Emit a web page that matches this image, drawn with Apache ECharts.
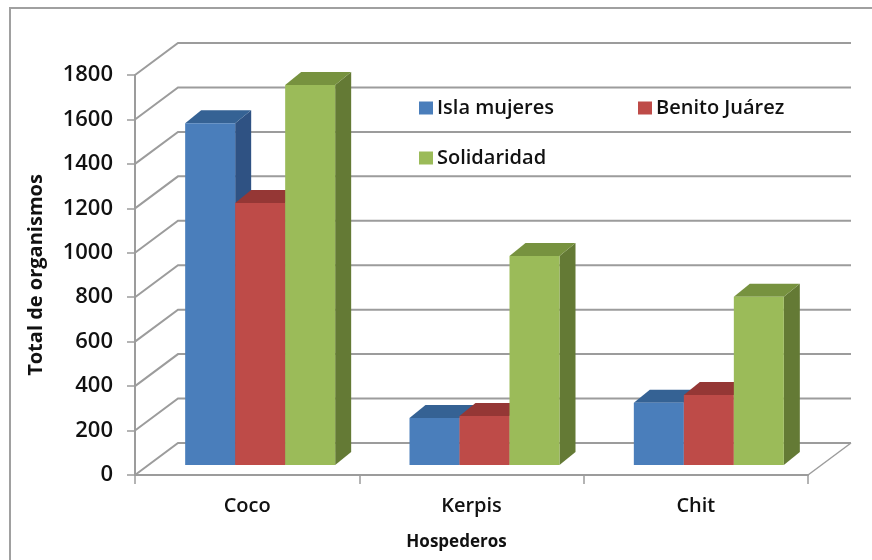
<!DOCTYPE html>
<html>
<head>
<meta charset="utf-8">
<style>html,body{margin:0;padding:0;background:#fff}#chart{width:872px;height:560px}</style>
<script src="https://cdn.jsdelivr.net/npm/echarts@6/dist/echarts.min.js"></script>
</head>
<body>
<div id="chart"></div>
<script>
// Total de organismos por hospedero y localidad
const categories = ['Coco', 'Kerpis', 'Chit'];
const islaMujeres = [1538, 212, 280];
const benitoJuarez = [1179, 220, 315];
const solidaridad = [1710, 940, 757];
const yTicks = [0, 200, 400, 600, 800, 1000, 1200, 1400, 1600, 1800];

// Oblique projection used to fake depth, in pixels
const WALL = { dx: 43, dy: -32 };
const BAR_SHIFT = { dx: 14, dy: -10 };
const BAR_DEPTH = { dx: 16, dy: -13 };
const BAR_BAND = 50 / 224.33;
const GRID_COLOR = '#9c9c9c';
const FONT = '"Open Sans", "Noto Sans", sans-serif';
const TEXT = '#111';

const palette = [
  { front: '#4a7ebb', top: '#356294', side: '#2f5283' },
  { front: '#be4b48', top: '#953735', side: '#8c3836' },
  { front: '#9bbb59', top: '#77923f', side: '#647a35' }
];

function poly(points, fill) {
  return { type: 'polygon', shape: { points }, style: { fill, stroke: null } };
}

// Back wall gridlines plus the floor edge on the right
function renderWall(params, api) {
  const p = api.coord([0, api.value(0)]);
  const size = api.size([1, 0]);
  const x0 = p[0] - size[0] / 2;
  const x1 = x0 + size[0] * categories.length;
  const y = p[1];
  const children = [{
    type: 'polyline',
    shape: { points: [[x0, y], [x0 + WALL.dx, y + WALL.dy], [x1 + WALL.dx, y + WALL.dy]] },
    style: { stroke: GRID_COLOR, lineWidth: 2, fill: null }
  }];
  if (api.value(0) === 0) {
    children.push({
      type: 'line',
      shape: { x1: x1, y1: y, x2: x1 + WALL.dx, y2: y + WALL.dy },
      style: { stroke: GRID_COLOR, lineWidth: 1.5 }
    });
  }
  return { type: 'group', silent: true, children };
}

function renderBar(seriesIndex) {
  return function (params, api) {
    const cat = api.value(0);
    const top = api.coord([cat, api.value(1)]);
    const base = api.coord([cat, 0]);
    const band = api.size([1, 0])[0];
    const w = band * BAR_BAND;
    const colors = palette[seriesIndex];
    const l = top[0] - w * 1.5 + BAR_SHIFT.dx + w * seriesIndex - 1;
    const r = l + w;
    const t = top[1] + BAR_SHIFT.dy;
    const b = base[1] + BAR_SHIFT.dy;
    const d = BAR_DEPTH;
    return {
      type: 'group',
      children: [
        poly([[r, t], [r + d.dx, t + d.dy], [r + d.dx, b + d.dy], [r, b]], colors.side),
        poly([[l, t], [l + d.dx, t + d.dy], [r + d.dx, t + d.dy], [r, t]], colors.top),
        poly([[l, t], [r, t], [r, b], [l, b]], colors.front)
      ]
    };
  };
}

function barSeries(name, values, index) {
  return {
    name,
    type: 'custom',
    coordinateSystem: 'cartesian2d',
    renderItem: renderBar(index),
    itemStyle: { color: palette[index].front },
    encode: { x: 0, y: 1 },
    data: values.map((v, i) => [i, v]),
    z: 3 + index
  };
}

function legendEntry(name, left, top) {
  return {
    data: [{ name, icon: 'rect' }],
    left, top,
    itemWidth: 14, itemHeight: 13, itemGap: 1,
    selectedMode: false,
    textStyle: { fontFamily: FONT, fontWeight: 600, fontSize: 20, color: TEXT, padding: [0, 0, 0, -1] }
  };
}

const chart = echarts.init(document.getElementById('chart'), null, { renderer: 'canvas' });
chart.setOption({
  animation: false,
  backgroundColor: '#fff',
  graphic: [{
    type: 'polyline',
    shape: { points: [[10, 560], [10, 8], [872, 8]] },
    style: { fill: 'none', stroke: '#a0a0a0', lineWidth: 2 },
    silent: true, z: 0
  }],
  grid: { left: 135, right: 64, top: 75, bottom: 85 },
  legend: [
    legendEntry('Isla mujeres', 414, 93),
    legendEntry('Benito Juárez', 633, 93),
    legendEntry('Solidaridad', 414, 143)
  ],
  xAxis: {
    type: 'category',
    data: categories,
    name: 'Hospederos',
    nameLocation: 'middle',
    nameGap: 59,
    nameTextStyle: { fontFamily: FONT, fontWeight: 700, fontSize: 17, color: TEXT, padding: [0, 30, 0, 0] },
    axisLine: { lineStyle: { color: GRID_COLOR, width: 2 } },
    axisTick: { show: true, length: 9, alignWithLabel: false, lineStyle: { color: GRID_COLOR, width: 1.5 } },
    axisLabel: { fontFamily: FONT, fontWeight: 600, fontSize: 20, color: TEXT, margin: 21 }
  },
  yAxis: {
    type: 'value',
    min: 0,
    max: 1800,
    interval: 200,
    name: 'Total de organismos',
    nameLocation: 'middle',
    nameGap: 89,
    nameTextStyle: { fontFamily: FONT, fontWeight: 700, fontSize: 20, color: TEXT },
    axisLine: { show: true, lineStyle: { color: GRID_COLOR, width: 2 } },
    axisTick: { show: true, length: 8, lineStyle: { color: GRID_COLOR, width: 1.5 } },
    axisLabel: {
      fontFamily: FONT, fontWeight: 600, fontSize: 22, color: TEXT, margin: 22,
      padding: [6, 0, 0, 0],
      formatter: v => String(v)
    },
    splitLine: { show: false }
  },
  series: [
    {
      type: 'custom',
      coordinateSystem: 'cartesian2d',
      renderItem: renderWall,
      encode: { y: 0 },
      data: yTicks.map(v => [v]),
      silent: true,
      z: 1,
      tooltip: { show: false }
    },
    barSeries('Isla mujeres', islaMujeres, 0),
    barSeries('Benito Juárez', benitoJuarez, 1),
    barSeries('Solidaridad', solidaridad, 2)
  ]
});
</script>
</body>
</html>
